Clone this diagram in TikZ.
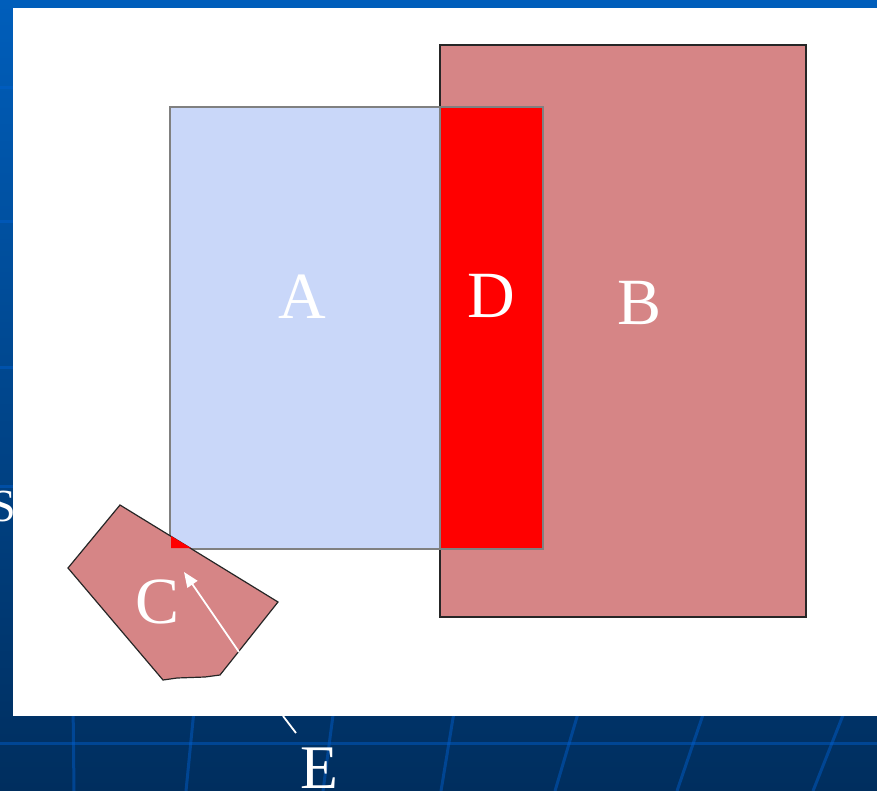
\documentclass[tikz,border=0pt]{standalone}
\usepackage{fontspec}
\setmainfont{Liberation Serif}
\usetikzlibrary{arrows.meta}
\definecolor{bgtop}{HTML}{005EBB}
\definecolor{bgbot}{HTML}{002E5E}
\definecolor{gridc}{HTML}{0060D0}
\definecolor{pinkc}{HTML}{D68586}
\definecolor{lightblue}{HTML}{C9D7F9}
\definecolor{redc}{HTML}{FF0000}
\definecolor{edgegray}{HTML}{808080}
\definecolor{edgedark}{HTML}{262626}
\tikzset{
  gridline/.style={draw=gridc, opacity=0.45, line width=3pt},
  bigletter/.style={text=white, font=\fontsize{66}{66}\selectfont, inner sep=0pt},
  pinkshape/.style={fill=pinkc, draw=edgedark, line width=1.3pt},
  grayedge/.style={draw=edgegray, line width=1.3pt},
}
\begin{document}
\begin{tikzpicture}[x=1pt,y=-1pt]
\useasboundingbox (0,0) rectangle (877,791);
\begin{scope}
\clip (0,0) rectangle (877,791);
% background
\shade[top color=bgtop, bottom color=bgbot] (0,0) rectangle (877,791);
% grid
\foreach \yy in {88,222,367,486,743}{
  \draw[gridline] (0,\yy) -- (877,\yy);
}
\draw[gridline] (73,700) -- (74,791);
\draw[gridline] (195,700) -- (186,791);
\draw[gridline] (335,700) -- (323,791);
\draw[gridline] (456,700) -- (441,791);
\draw[gridline] (582,700) -- (555,791);
\draw[gridline] (708,700) -- (677,791);
\draw[gridline] (849,700) -- (813,791);
% stray letter at left
\node[text=white, font=\fontsize{46}{46}\selectfont, inner sep=0pt, anchor=base east] (s) at (16,521) {S};
% white panel
\fill[white] (13,8) rectangle (877,716);
\end{scope}
% B
\draw[pinkshape] (440,45) rectangle (806,617);
% A
\fill[lightblue] (170,107) rectangle (440,549);
% D
\fill[redc] (440,107) rectangle (543,549);
\draw[grayedge] (170,107) rectangle (543,549);
\draw[grayedge] (440,107) -- (440,549);
% C
\draw[pinkshape, line width=1.2pt] (120,505) -- (68,568) -- (163,680) -- (177,678) -- (205,677) -- (220,675) -- (278,602) -- cycle;
% E region
\fill[redc] (171,536) -- (171,548) -- (191,548) -- cycle;
% labels
\node[bigletter] (A) at (302,297) {A};
\node[bigletter] (D) at (491,296) {D};
\node[bigletter] (B) at (640,303) {B};
\node[bigletter] (C) at (158,602) {C};
\node[bigletter, font=\fontsize{62}{62}\selectfont] (E) at (319,768) {E};
% arrows
\coordinate (ctail) at (239,652);
\coordinate (chead) at (184,572);
\draw[white, line width=1.8pt, -{Triangle[length=15pt,width=12pt]}] (ctail) -- (chead);
\coordinate (etail) at (296,733);
\coordinate (ehead) at (283,716);
\draw[white, line width=1.8pt] (etail) -- (ehead);
\end{tikzpicture}
\end{document}
